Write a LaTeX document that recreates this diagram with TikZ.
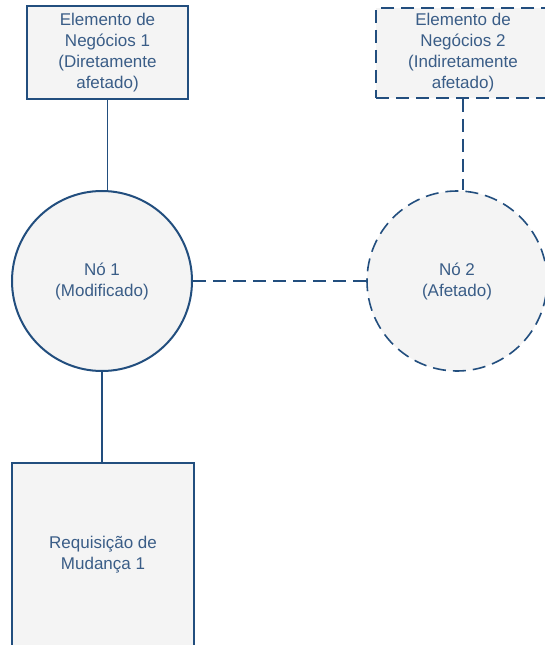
\documentclass[tikz,border=0pt]{standalone}
\usepackage{fontspec}
\setmainfont{Liberation Sans}
\definecolor{strokeblue}{HTML}{224E7E}
\definecolor{textblue}{HTML}{3A5D87}
\definecolor{fillgray}{HTML}{F4F4F4}
\begin{document}
\begin{tikzpicture}[x=0.75pt,y=-0.75pt,
  lbl/.style={text=textblue,align=center,font=\fontsize{12.75}{15.75}\selectfont,inner sep=0pt},
  solidbox/.style={lbl,draw=strokeblue,fill=fillgray,line width=1.8pt,rectangle},
  dashbox/.style={lbl,draw=strokeblue,fill=fillgray,line width=1.2pt,rectangle,dash pattern=on 9.75pt off 5.25pt},
  solidcirc/.style={lbl,draw=strokeblue,fill=fillgray,line width=1.5pt,circle,minimum size=135pt},
  dashcirc/.style={lbl,draw=strokeblue,fill=fillgray,line width=1.2pt,circle,minimum size=135pt,dash pattern=on 9.75pt off 5.25pt},
  solidlink/.style={draw=strokeblue,line width=1.1pt},
  dashlink/.style={draw=strokeblue,line width=1.1pt,dash pattern=on 9.75pt off 5.25pt}]
\useasboundingbox (0,0) rectangle (545,645);
\node[solidbox,minimum width=120.75pt,minimum height=69.75pt] (b1) at (107.5,52.5)
  {Elemento de\\Negócios 1\\(Diretamente\\afetado)};
\node[dashbox,minimum width=130.5pt,minimum height=67.5pt] (b2) at (463,53)
  {Elemento de\\Negócios 2\\(Indiretamente\\afetado)};
\node[solidcirc] (c1) at (102,281) {Nó 1\\(Modificado)};
\node[dashcirc] (c2) at (457,281) {Nó 2\\(Afetado)};
\node[solidbox,minimum width=136.5pt,minimum height=138pt] (b3) at (103,555)
  {Requisição de\\Mudança 1};
\draw[solidlink] (b1.south) -- (b1.south |- c1.north);
\draw[solidlink] (c1.south) -- (c1.south |- b3.north);
\draw[dashlink] (c1.east) -- (c2.west);
\draw[dashlink] (b2.south) -- (b2.south |- c2.north);
\end{tikzpicture}
\end{document}
